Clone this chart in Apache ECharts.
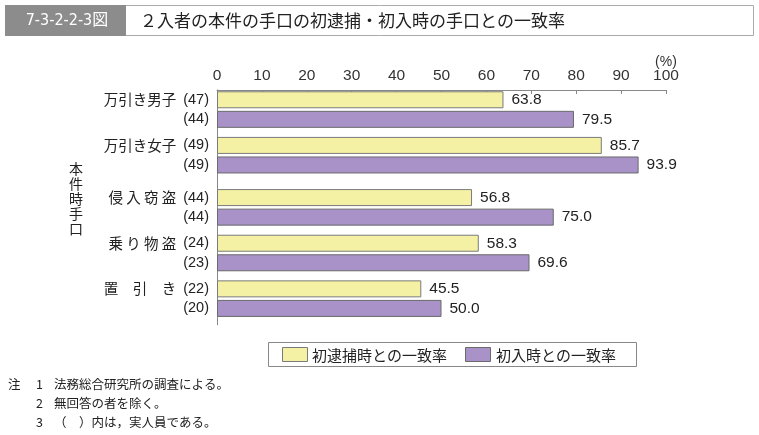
<!DOCTYPE html>
<html><head><meta charset="utf-8">
<script src="https://cdn.jsdelivr.net/npm/echarts@6/dist/echarts.min.js"></script>
<style>html,body{margin:0;padding:0;background:#fff}#c{width:759px;height:435px}</style>
</head><body><div id="c"></div>
<script>
// ---- data ----
const groups = ['万引き男子', '万引き女子', '侵 入 窃 盗', '乗 り 物 盗', '置　引　き'];
const countsArrest = [47, 49, 44, 24, 22];
const countsEntry = [44, 49, 44, 23, 20];
const rateArrest = [63.8, 85.7, 56.8, 58.3, 45.5];
const rateEntry = [79.5, 93.9, 75.0, 69.6, 50.0];
const xTicks = [0, 10, 20, 30, 40, 50, 60, 70, 80, 90, 100];
const seriesNames = ['初逮捕時との一致率', '初入時との一致率'];

// ---- layout (slot index of each group's first bar on a fine category axis) ----
const lead = 1, groupSlots = [0, 7, 15, 22, 29], totalSlots = 36;
const cats = [], labels = [], dA = [], dE = [];
for (let i = 0; i < totalSlots; i++) { cats.push('s' + i); labels.push(''); dA.push(null); dE.push(null); }
groups.forEach((g, i) => {
  const a = lead + groupSlots[i], b = a + 3;
  labels[a] = '{n|' + g + '}{c|(' + countsArrest[i] + ')}';
  labels[b] = '{c|(' + countsEntry[i] + ')}';
  dA[a] = rateArrest[i];
  dE[b] = rateEntry[i];
});

const chart = echarts.init(document.getElementById('c'), null, {renderer: 'canvas'});
const font = '"Noto Sans CJK JP", "Noto Sans", sans-serif';
const num = '"Liberation Sans", Arial, sans-serif';
const lbl = {show: true, position: 'right', distance: 8, color: '#222', fontSize: 15.5, fontFamily: num,
  formatter: p => Number(p.value).toFixed(1)};
chart.setOption({
  animation: false,
  textStyle: {fontFamily: font},
  grid: {left: 217, top: 90, width: 449, height: totalSlots * 6.52},
  xAxis: {
    type: 'value', position: 'top', min: 0, max: 100, interval: 10,
    axisLine: {show: true, lineStyle: {color: '#888'}},
    axisTick: {show: true, inside: true, length: 4, lineStyle: {color: '#888'}},
    axisLabel: {color: '#333', fontSize: 15.5, margin: 6, fontFamily: num,
      formatter: v => xTicks.includes(v) ? String(v) : ''},
    splitLine: {show: false}
  },
  yAxis: {
    type: 'category', data: cats, inverse: true,
    axisLine: {show: true, lineStyle: {color: '#888'}},
    axisTick: {show: false},
    axisLabel: {interval: 0, color: '#222', margin: 8,
      formatter: (v, i) => labels[i],
      rich: {
        n: {fontSize: 14.5, fontFamily: font, color: '#222', padding: [0, 7, 0, 0]},
        c: {fontSize: 14.5, fontFamily: num, color: '#222'}
      }}
  },
  series: [
    {name: seriesNames[0], type: 'bar', data: dA, barWidth: 17, barGap: '-100%',
      itemStyle: {color: '#f4f1a4', borderColor: '#7a7a7a', borderWidth: 1}, label: lbl},
    {name: seriesNames[1], type: 'bar', data: dE, barWidth: 17, barGap: '-100%',
      itemStyle: {color: '#a892c8', borderColor: '#6a6a6a', borderWidth: 1}, label: lbl}
  ],
  graphic: [
    {type: 'rect', shape: {x: 5.5, y: 5.5, width: 748, height: 30}, style: {fill: '#fff', stroke: '#aaa', lineWidth: 1}},
    {type: 'rect', shape: {x: 5, y: 5, width: 121, height: 31}, style: {fill: '#8c8c8c'}},
    {type: 'text', x: 67, y: 21, style: {text: '7-3-2-2-3図', fill: '#fff', fontSize: 16, fontFamily: '"DejaVu Sans Condensed", "Noto Sans CJK JP", sans-serif', align: 'center', verticalAlign: 'middle'}},
    {type: 'text', x: 140, y: 21, style: {text: '２入者の本件の手口の初逮捕・初入時の手口との一致率', fill: '#222', fontSize: 17, fontFamily: font, verticalAlign: 'middle'}},
    {type: 'text', x: 666, y: 62, style: {text: '(%)', fill: '#333', fontSize: 14, fontFamily: num, align: 'center', verticalAlign: 'middle'}},
    {type: 'text', x: 76, y: 199, style: {text: '本\n件\n時\n手\n口', fill: '#222', fontSize: 14, lineHeight: 15, fontFamily: font, align: 'center', verticalAlign: 'middle'}},
    // legend
    {type: 'rect', shape: {x: 268.5, y: 342.5, width: 368, height: 24}, style: {fill: '#fff', stroke: '#888', lineWidth: 1}},
    {type: 'rect', shape: {x: 282.5, y: 347.5, width: 25, height: 14}, style: {fill: '#f4f1a4', stroke: '#7a7a7a', lineWidth: 1}},
    {type: 'text', x: 312, y: 355, style: {text: seriesNames[0], fill: '#222', fontSize: 15, fontFamily: font, verticalAlign: 'middle'}},
    {type: 'rect', shape: {x: 465.5, y: 347.5, width: 25, height: 14}, style: {fill: '#a892c8', stroke: '#6a6a6a', lineWidth: 1}},
    {type: 'text', x: 496, y: 355, style: {text: seriesNames[1], fill: '#222', fontSize: 15, fontFamily: font, verticalAlign: 'middle'}},
    // notes
    {type: 'text', x: 8, y: 384, style: {text: '注', fill: '#222', fontSize: 12.5, fontFamily: font, verticalAlign: 'middle'}},
    {type: 'text', x: 36, y: 384, style: {text: '1', fill: '#222', fontSize: 12.5, fontFamily: font, verticalAlign: 'middle'}},
    {type: 'text', x: 54, y: 384, style: {text: '法務総合研究所の調査による。', fill: '#222', fontSize: 12.5, fontFamily: font, verticalAlign: 'middle'}},
    {type: 'text', x: 36, y: 403, style: {text: '2', fill: '#222', fontSize: 12.5, fontFamily: font, verticalAlign: 'middle'}},
    {type: 'text', x: 54, y: 403, style: {text: '無回答の者を除く。', fill: '#222', fontSize: 12.5, fontFamily: font, verticalAlign: 'middle'}},
    {type: 'text', x: 36, y: 422, style: {text: '3', fill: '#222', fontSize: 12.5, fontFamily: font, verticalAlign: 'middle'}},
    {type: 'text', x: 54, y: 422, style: {text: '（　）内は，実人員である。', fill: '#222', fontSize: 12.5, fontFamily: font, verticalAlign: 'middle'}}
  ]
});
</script></body></html>
